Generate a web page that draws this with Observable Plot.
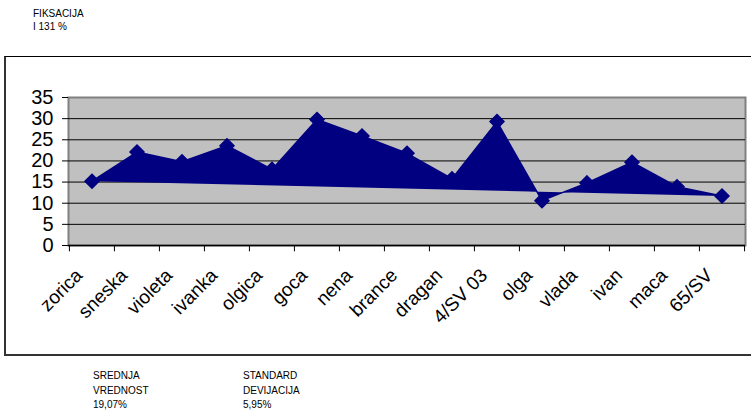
<!DOCTYPE html>
<html>
<head>
<meta charset="utf-8">
<script src="https://cdn.jsdelivr.net/npm/d3@7"></script>
<script src="https://cdn.jsdelivr.net/npm/@observablehq/plot@0.6"></script>
<style>
  html, body { margin: 0; padding: 0; background: #fff; }
  #wrap { position: relative; width: 751px; height: 411px; overflow: hidden; font-family: "Liberation Sans", Arial, sans-serif; }
  #wrap svg { position: absolute; left: 0; top: 0; }
  .note { position: absolute; font-size: 10px; color: #000; white-space: nowrap; }
  #box { position: absolute; left: 4px; top: 56px; width: 780px; height: 297px; border-top: 1px solid #000; border-left: 2px solid #333; border-bottom: 2px solid #333; }
  .xl { position: absolute; font-size: 19px; line-height: 19px; color: #000; white-space: nowrap; transform-origin: 100% 50%; transform: translate(-100%, -50%) rotate(-45deg); z-index: 3; }
</style>
</head>
<body>
<div id="wrap">
  <div id="box"></div>
  <div class="note" style="left:33px; top:7px; line-height:13px;">FIKSACIJA<br>I 131 %</div>
  <div class="note" style="left:93px; top:369px; line-height:14.5px;">SREDNJA<br>VREDNOST<br>19,07%</div>
  <div class="note" style="left:243px; top:369px; line-height:14.5px;">STANDARD<br>DEVIJACIJA<br>5,95%</div>
</div>
<script>
const names = ["zorica","sneska","violeta","ivanka","olgica","goca","nena","brance","dragan","4/SV 03","olga","vlada","ivan","maca","65/SV"];
const values = [15.2, 22.1, 19.8, 23.6, 18.0, 29.8, 25.9, 21.8, 15.8, 29.3, 10.6, 14.8, 19.7, 13.9, 11.7];
const yTicks = [0, 5, 10, 15, 20, 25, 30, 35];
const gridLines = [5, 10, 15, 20, 25, 30];

const data = names.map((n, i) => ({name: n, value: values[i]}));
const plotLeft = 68, plotRight = 745;
const bw = (plotRight - plotLeft) / names.length;

const chart = Plot.plot({
  width: 751,
  height: 411,
  marginLeft: plotLeft,
  marginRight: 751 - plotRight,
  marginTop: 97,
  marginBottom: 166,
  style: {fontFamily: "'Liberation Sans', Arial, sans-serif", background: "transparent", color: "#000", overflow: "visible"},
  x: {type: "band", domain: names, padding: 0, axis: null},
  y: {domain: [0, 35], axis: null},
  marks: [
    Plot.frame({fill: "#c0c0c0", stroke: "#808080", strokeWidth: 2}),
    Plot.ruleY(gridLines, {stroke: "#000", strokeWidth: 1}),
    Plot.ruleY([0], {stroke: "#000", strokeWidth: 1.5}),
    Plot.line(data, {x: "name", y: "value", stroke: "#000080", fill: "#000080", strokeWidth: 1.5}),
    Plot.dot(data, {x: "name", y: "value", symbol: "diamond2", r: 6.3, fill: "#000080", stroke: "#000080"}),
    Plot.axisY({ticks: yTicks, tickSize: 6, tickPadding: 9, fontSize: 20, label: null}),
    Plot.ruleX(names, {x: d => d, y1: 0, y2: -1.5, dx: -bw / 2, stroke: "#000"}),
    Plot.ruleX(names.slice(-1), {x: d => d, y1: 0, y2: -1.5, dx: bw / 2, stroke: "#000"})
  ]
});
const wrap = document.getElementById("wrap");
wrap.appendChild(chart);

// Rotated category labels, positioned with the chart's own x and y scales
const xs = chart.scale("x"), ys = chart.scale("y");
const bandW = xs.bandwidth || bw;
names.forEach(n => {
  const cx = xs.apply(n) + bandW / 2;
  const el = document.createElement("div");
  el.className = "xl";
  el.textContent = n;
  el.style.left = (cx - 13) + "px";
  el.style.top = (ys.apply(0) + 27) + "px";
  wrap.appendChild(el);
});
</script>
</body>
</html>
